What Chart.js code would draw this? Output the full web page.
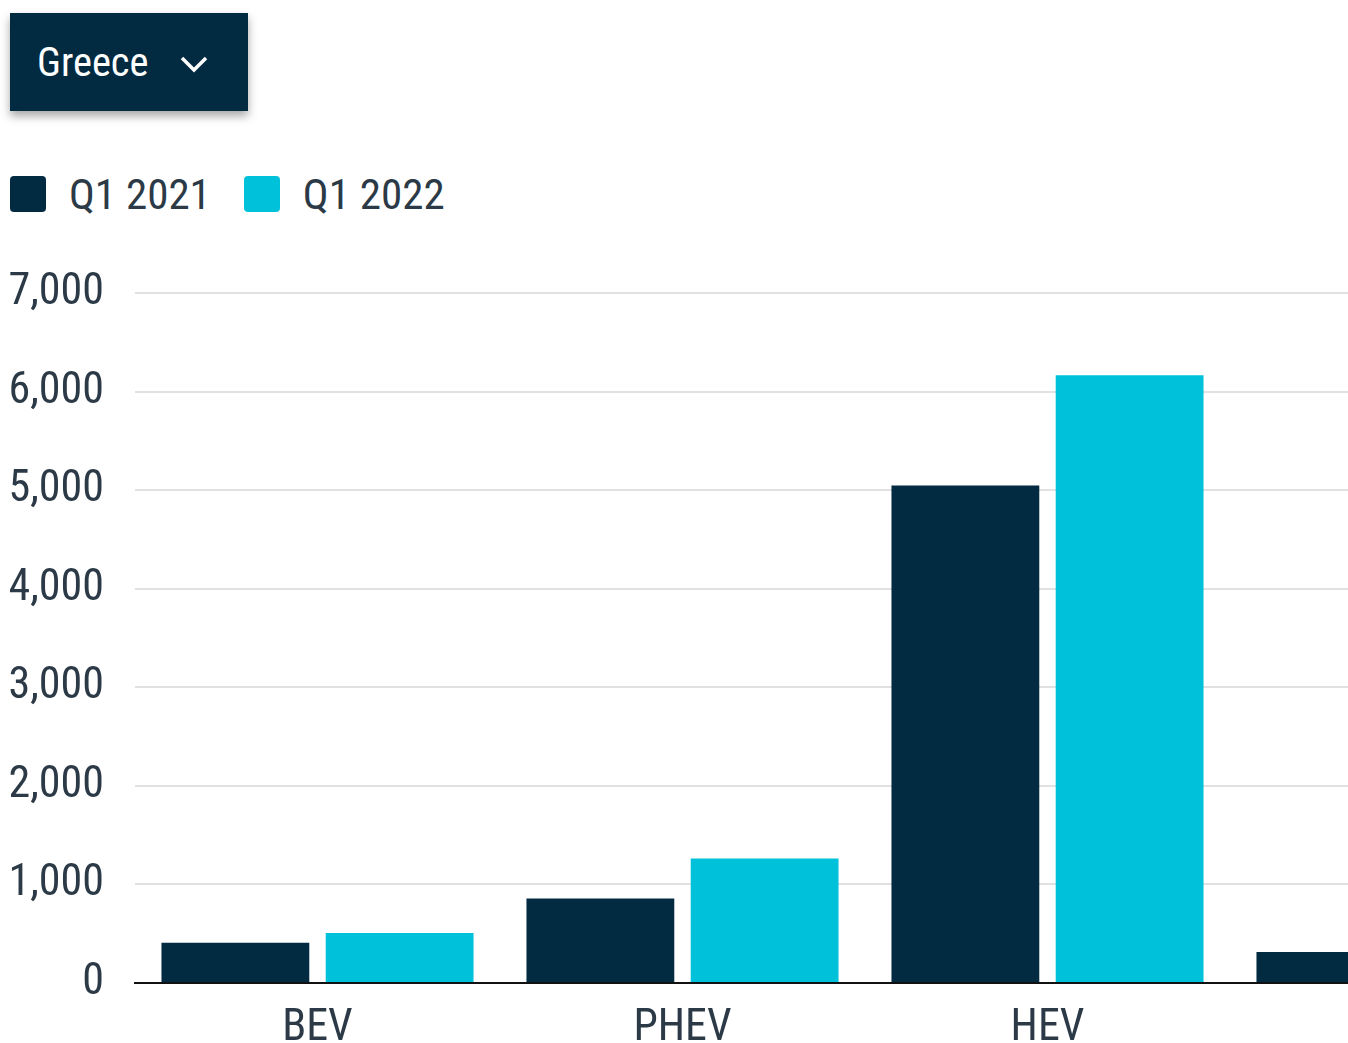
<!DOCTYPE html>
<html>
<head>
<meta charset="utf-8">
<script src="https://cdn.jsdelivr.net/npm/chart.js@4.4.1/dist/chart.umd.min.js"></script>
<style>
  html, body { margin: 0; padding: 0; background: #fff; width: 1348px; height: 1043px; overflow: hidden; }
  body { position: relative; font-family: 'Roboto Condensed', Roboto, sans-serif; }
  #dropdown {
    position: absolute; left: 10px; top: 13px; width: 238px; height: 98px;
    background: #022b41; color: #fff; box-shadow: 0 5px 9px rgba(0,0,0,0.35);
    display: flex; align-items: center; box-sizing: border-box; padding-left: 27px;
    font-size: 40.5px;
  }
  #dropdown svg { position: absolute; left: 169px; top: 40px; }
  #legend { position: absolute; left: 10px; top: 176px; height: 36px; display: flex; align-items: center; font-size: 43px; color: #2b3a46; }
  .sw { width: 36px; height: 36px; border-radius: 4px; display: inline-block; }
  .lt { margin-left: 23px; margin-right: 33px; line-height: 36px; }
  #wrap { position: absolute; left: 0; top: 236px; width: 1600px; height: 807px; }
</style>
</head>
<body>
<div id="dropdown"><span>Greece</span>
  <svg width="30" height="22" viewBox="0 0 30 22"><polyline points="3,5 15,17 27,5" fill="none" stroke="#fff" stroke-width="3.5"/></svg>
</div>
<div id="legend">
  <span class="sw" style="background:#022b41"></span><span class="lt">Q1 2021</span>
  <span class="sw" style="background:#00c1da"></span><span class="lt">Q1 2022</span>
</div>
<div id="wrap"><canvas id="c"></canvas></div>
<script>
const cats = ['BEV', 'PHEV', 'HEV', 'Others'];
const valuesQ1_2021 = [408, 858, 5050, 315];
const valuesQ1_2022 = [508, 1265, 6170, 262];
const yTicks = [0, 1000, 2000, 3000, 4000, 5000, 6000, 7000];
const colors = ['#022b41', '#00c1da'];
const FONT = "'Roboto Condensed', Roboto, sans-serif";

new Chart(document.getElementById('c'), {
  type: 'bar',
  data: {
    labels: cats,
    datasets: [
      { label: 'Q1 2021', data: valuesQ1_2021, backgroundColor: colors[0], categoryPercentage: 0.9, barPercentage: 0.9 },
      { label: 'Q1 2022', data: valuesQ1_2022, backgroundColor: colors[1], categoryPercentage: 0.9, barPercentage: 0.9 }
    ]
  },
  options: {
    responsive: true,
    maintainAspectRatio: false,
    animation: false,
    layout: { padding: { left: 10, right: 5, top: 0, bottom: 0 } },
    plugins: { legend: { display: false }, tooltip: { enabled: false } },
    scales: {
      x: {
        grid: { display: false, drawTicks: false },
        border: { display: true, color: '#111', width: 2 },
        ticks: { font: { family: FONT, size: 44 }, color: '#2b3a46', padding: 20 },
        afterFit: (s) => { s.height = 60; }
      },
      y: {
        min: 0, max: 7000,
        afterBuildTicks: (s) => { s.ticks = yTicks.map(v => ({ value: v })); },
        afterFit: (s) => { s.width = 125; },
        grid: { color: '#e1e1e1', lineWidth: 2, drawTicks: false },
        border: { display: false },
        ticks: { font: { family: FONT, size: 44 }, color: '#2b3a46', padding: 31,
          callback: (v) => v.toLocaleString('en-US') }
      }
    }
  }
});
</script>
</body>
</html>
